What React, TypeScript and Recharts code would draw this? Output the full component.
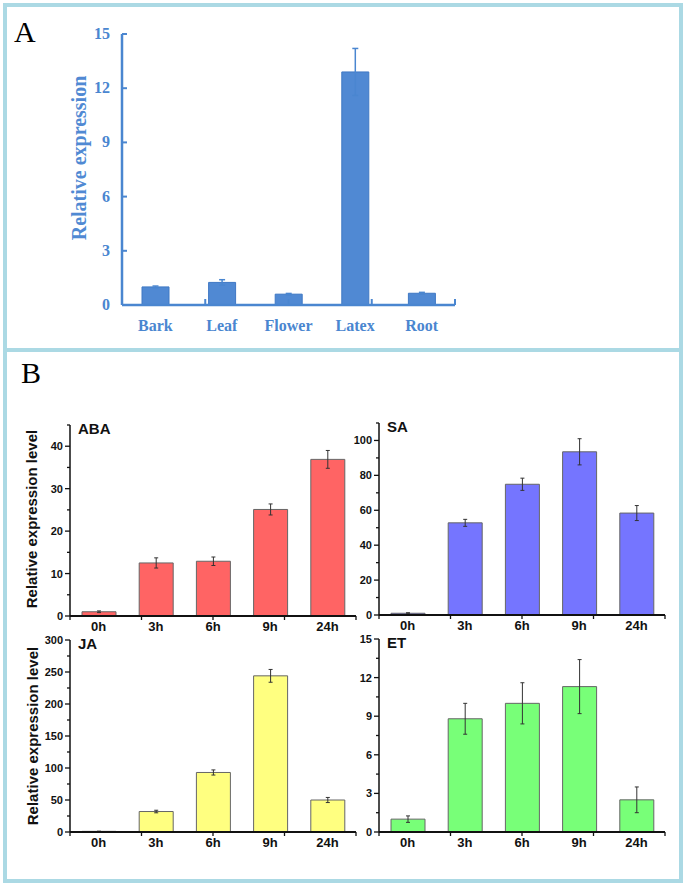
import React from "react";
import { BarChart, Bar, XAxis, YAxis, ErrorBar } from "recharts";

// panel A: tissue expression
const tissues = ["Bark", "Leaf", "Flower", "Latex", "Root"];
const tissueMean = [1.0, 1.25, 0.6, 12.9, 0.65];
const tissueErr = [0.05, 0.15, 0.04, 1.3, 0.05];
const tissueTicks = [0, 3, 6, 9, 12, 15];

// panel B: hormone time course
const hours = ["0h", "3h", "6h", "9h", "24h"];
const abaMean = [1.0, 12.5, 12.9, 25.1, 36.9];
const abaErr = [0.2, 1.2, 1.0, 1.3, 2.1];
const saMean = [1.0, 52.8, 74.9, 93.5, 58.4];
const saErr = [0.3, 2.0, 3.5, 7.5, 4.3];
const jaMean = [1.0, 32, 93, 244, 50];
const jaErr = [0.3, 2, 4, 10, 4];
const etMean = [1.0, 8.8, 10.0, 11.3, 2.5];
const etErr = [0.25, 1.2, 1.6, 2.1, 1.0];

const abaTicks = [0, 10, 20, 30, 40];
const abaMinor = [5, 15, 25, 35, 45];
const saTicks = [0, 20, 40, 60, 80, 100];
const saMinor = [10, 30, 50, 70, 90, 110];
const jaTicks = [0, 50, 100, 150, 200, 250, 300];
const jaMinor = [25, 75, 125, 175, 225, 275];
const etTicks = [0, 3, 6, 9, 12, 15];
const etMinor = [1.5, 4.5, 7.5, 10.5, 13.5];

const edges = [0, 1, 2, 3, 4, 5];

const toRows = (names: string[], mean: number[], err: number[]) =>
  names.map((name, i) => ({ name, mean: mean[i], err: err[i] }));

const BLUE = "#4a86d0";
const SANS = "'Liberation Sans', Arial, sans-serif";
const SERIF = "'Liberation Serif', 'Times New Roman', serif";

function YTick(props: any) {
  const { x, y, payload, majors } = props;
  const axisX = x + 7;
  const major = majors.includes(payload.value);
  return (
    <g>
      <line x1={axisX - (major ? 5 : 3)} x2={axisX} y1={y} y2={y} stroke="#111" strokeWidth={1.3} />
      {major && (
        <text x={x} y={y} dy={4} textAnchor="end" fill="#111" fontSize={11} fontWeight={700} fontFamily={SANS}>
          {payload.value}
        </text>
      )}
    </g>
  );
}

// ticks at the band edges of a category axis, drawn by a number axis laid on top of it
function EdgeTick(props: any) {
  const { x, y, len, color, width } = props;
  return <line x1={x} x2={x} y1={y} y2={y + len} stroke={color} strokeWidth={width} />;
}

interface TimeCourseProps {
  label: string;
  mean: number[];
  err: number[];
  fill: string;
  max: number;
  majors: number[];
  minors: number[];
  left: number;
  top: number;
  height: number;
}

function TimeCourse({ label, mean, err, fill, max, majors, minors, left, top, height }: TimeCourseProps) {
  const data = toRows(hours, mean, err);
  const allTicks = [...majors, ...minors].sort((a, b) => a - b);
  return (
    <div style={{ position: "absolute", left, top }}>
      <BarChart width={360} height={height} data={data} margin={{ top: 5, right: 4, bottom: 4, left: 40 }}>
        <XAxis
          dataKey="name"
          interval={0}
          tickLine={false}
          tickSize={0}
          tickMargin={6}
          height={20}
          axisLine={{ stroke: "#111", strokeWidth: 2 }}
          tick={{ fill: "#111", fontSize: 13, fontWeight: 700, fontFamily: SANS }}
        />
        <XAxis
          xAxisId="edge"
          type="number"
          domain={[0, 5]}
          allowDataOverflow
          ticks={edges}
          interval={0}
          mirror
          axisLine={false}
          tickLine={false}
          tickSize={0}
          tickMargin={0}
          tick={(p: any) => <EdgeTick {...p} len={4} color="#111" width={1.3} />}
        />
        <YAxis
          type="number"
          domain={[0, max]}
          allowDataOverflow
          ticks={allTicks}
          interval={0}
          width={30}
          tickLine={false}
          tickSize={0}
          tickMargin={7}
          axisLine={{ stroke: "#111", strokeWidth: 1.5 }}
          tick={(p: any) => <YTick {...p} majors={majors} />}
        />
        <Bar dataKey="mean" fill={fill} stroke="#666" strokeWidth={1} barSize={34} isAnimationActive={false}>
          <ErrorBar dataKey="err" width={2} stroke="#333" strokeWidth={1} direction="y" isAnimationActive={false} />
        </Bar>
      </BarChart>
      <div
        style={{
          position: "absolute",
          left: 78,
          top: 1,
          fontFamily: SANS,
          fontWeight: 700,
          fontSize: 15,
          lineHeight: 1,
          color: "#111",
        }}
      >
        {label}
      </div>
    </div>
  );
}

function YTitle({ text, x, y, style }: { text: string; x: number; y: number; style: React.CSSProperties }) {
  return (
    <div
      style={{
        position: "absolute",
        left: x,
        top: y,
        transform: "translate(-50%, -50%) rotate(-90deg)",
        whiteSpace: "nowrap",
        lineHeight: 1,
        ...style,
      }}
    >
      {text}
    </div>
  );
}

function ATick(props: any) {
  const { x, y, payload } = props;
  const axisX = x + 12;
  return (
    <g>
      <line x1={axisX} x2={axisX + 5} y1={y} y2={y} stroke={BLUE} strokeWidth={2} />
      <text x={x} y={y} dy={5} textAnchor="end" fill={BLUE} fontSize={16} fontWeight={700} fontFamily={SERIF}>
        {payload.value}
      </text>
    </g>
  );
}

export default function App() {
  const tissueRows = toRows(tissues, tissueMean, tissueErr);
  const frame = "4px solid #abd9e4";
  return (
    <div style={{ position: "absolute", left: 0, top: 0, width: 685, height: 884, background: "#fff" }}>
      <div style={{ position: "absolute", left: 3, top: 3, width: 680, height: 349, border: frame, boxSizing: "border-box" }} />
      <div style={{ position: "absolute", left: 3, top: 348, width: 680, height: 535, border: frame, boxSizing: "border-box" }} />

      <div style={{ position: "absolute", left: 14, top: 17, fontFamily: SERIF, fontSize: 30, lineHeight: 1, color: "#000" }}>A</div>
      <div style={{ position: "absolute", left: 21, top: 358, fontFamily: SERIF, fontSize: 30, lineHeight: 1, color: "#000" }}>B</div>

      <div style={{ position: "absolute", left: 0, top: 0 }}>
        <BarChart width={470} height={345} data={tissueRows} margin={{ top: 34, right: 15, bottom: 10, left: 82 }}>
          <XAxis
            dataKey="name"
            interval={0}
            tickLine={false}
            tickSize={0}
            tickMargin={15}
            height={30}
            axisLine={{ stroke: BLUE, strokeWidth: 2.5 }}
            tick={{ fill: BLUE, fontSize: 16, fontWeight: 700, fontFamily: SERIF }}
          />
          <XAxis
            xAxisId="edge"
            type="number"
            domain={[0, 5]}
            allowDataOverflow
            ticks={edges}
            interval={0}
            mirror
            axisLine={false}
            tickLine={false}
            tickSize={0}
            tickMargin={0}
            tick={(p: any) => <EdgeTick {...p} len={-6} color={BLUE} width={2} />}
          />
          <YAxis
            type="number"
            domain={[0, 15]}
            allowDataOverflow
            ticks={tissueTicks}
            interval={0}
            width={40}
            tickLine={false}
            tickSize={0}
            tickMargin={12}
            axisLine={{ stroke: BLUE, strokeWidth: 2.5 }}
            tick={(p: any) => <ATick {...p} />}
          />
          <Bar dataKey="mean" fill="#5089d3" stroke="#3f78c4" strokeWidth={1} barSize={27} isAnimationActive={false}>
            <ErrorBar dataKey="err" width={3} stroke={BLUE} strokeWidth={1.5} direction="y" isAnimationActive={false} />
          </Bar>
        </BarChart>
      </div>
      <YTitle
        text="Relative expression"
        x={79}
        y={158}
        style={{ fontFamily: SERIF, fontWeight: 700, fontSize: 20, color: "#5089d3" }}
      />

      <TimeCourse label="ABA" mean={abaMean} err={abaErr} fill="#ff6464" max={45} majors={abaTicks} minors={abaMinor} left={0} top={420} height={220} />
      <TimeCourse label="SA" mean={saMean} err={saErr} fill="#7575ff" max={110} majors={saTicks} minors={saMinor} left={309} top={418} height={221} />
      <TimeCourse label="JA" mean={jaMean} err={jaErr} fill="#ffff80" max={300} majors={jaTicks} minors={jaMinor} left={0} top={635} height={221} />
      <TimeCourse label="ET" mean={etMean} err={etErr} fill="#78ff78" max={15} majors={etTicks} minors={etMinor} left={309} top={634} height={222} />

      <YTitle text="Relative expression level" x={31} y={519} style={{ fontFamily: SANS, fontWeight: 700, fontSize: 15, color: "#111" }} />
      <YTitle text="Relative expression level" x={32} y={736} style={{ fontFamily: SANS, fontWeight: 700, fontSize: 15, color: "#111" }} />
    </div>
  );
}
